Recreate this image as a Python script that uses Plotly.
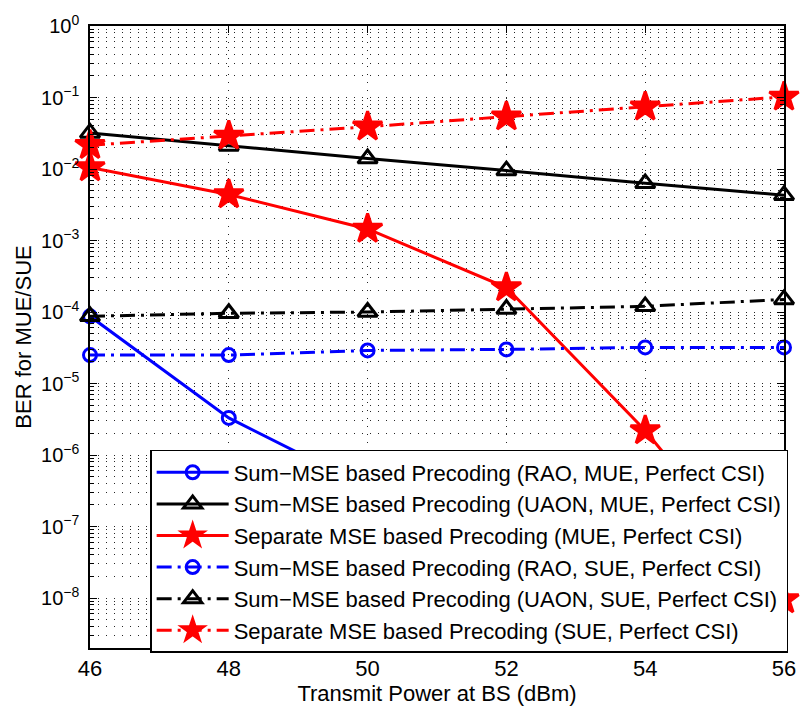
import plotly.graph_objects as go

# ---- data ----
power_dbm = [46, 48, 50, 52, 54, 56]
rao_mue = [8.7e-5, 3.3e-6, 3.5e-7, 1.5e-8, None, None]
uaon_mue = [3.2e-2, 2.1e-2, 1.4e-2, 9.5e-3, 6.3e-3, 4.3e-3]
sep_mue = [1.05e-2, 4.4e-3, 1.45e-3, 2.2e-4, 2.2e-6, 9.5e-9]
rao_sue = [2.5e-5, 2.5e-5, 2.9e-5, 3.0e-5, 3.2e-5, 3.2e-5]
uaon_sue = [8.7e-5, 9.6e-5, 1.0e-4, 1.1e-4, 1.2e-4, 1.5e-4]
sep_sue = [2.15e-2, 2.9e-2, 3.9e-2, 5.4e-2, 7.4e-2, 1.02e-1]

names = [
    "Sum\u2212MSE based Precoding (RAO, MUE, Perfect CSI)",
    "Sum\u2212MSE based Precoding (UAON, MUE, Perfect CSI)",
    "Separate MSE based Precoding (MUE, Perfect CSI)",
    "Sum\u2212MSE based Precoding (RAO, SUE, Perfect CSI)",
    "Sum\u2212MSE based Precoding (UAON, SUE, Perfect CSI)",
    "Separate MSE based Precoding (SUE, Perfect CSI)",
]
decade_exps = [-8, -7, -6, -5, -4, -3, -2, -1, 0]
x_ticks = [46, 48, 50, 52, 54, 56]
y_title = "BER for MUE/SUE"
x_title = "Transmit Power at BS (dBm)"

FONT = "Liberation Sans, Arial, Helvetica, sans-serif"
FS = 22
TFS = 20
DASHDOT = "15px,6px,3px,6px"

series = [
    (rao_mue, "blue", "solid", "circle-open", 13),
    (uaon_mue, "black", "solid", "triangle-up-open", 17),
    (sep_mue, "red", "solid", "star", 22),
    (rao_sue, "blue", DASHDOT, "circle-open", 13),
    (uaon_sue, "black", DASHDOT, "triangle-up-open", 17),
    (sep_sue, "red", DASHDOT, "star", 22),
]

fig = go.Figure()
for (vals, col, dash, sym, size), nm in zip(series, names):
    fig.add_trace(go.Scatter(
        x=power_dbm, y=vals, name=nm, mode="lines+markers",
        line=dict(color=col, width=3, dash=dash),
        marker=dict(symbol=sym, size=size, color=col,
                    line=dict(color=col, width=3)),
        cliponaxis=False, connectgaps=False,
    ))

tickvals = [10.0 ** e for e in decade_exps]
ticktext = ["10<sup>" + ("\u2212" if e < 0 else "") + str(abs(e)) + "</sup>" for e in decade_exps]
minor_vals = [k * 10.0 ** e for e in range(-9, 0) for k in range(2, 10)]

GRID = "rgba(0,0,0,0.85)"
GDASH = "1px,7px"

fig.update_layout(
    width=808, height=713,
    margin=dict(l=90, r=16, t=26, b=56),
    paper_bgcolor="white", plot_bgcolor="white",
    font=dict(family=FONT, size=FS, color="black"),
    showlegend=True,
    legend=dict(
        x=1.006, y=-0.008, xanchor="right", yanchor="bottom",
        bgcolor="white", bordercolor="black", borderwidth=1.5,
        font=dict(family=FONT, size=FS, color="black"),
        itemwidth=72, tracegroupgap=0,
    ),
    xaxis=dict(
        range=[46, 56], tickmode="array", tickvals=x_ticks,
        ticks="inside", ticklen=7, tickwidth=1, tickcolor="black",
        showline=True, linecolor="black", linewidth=1.5, mirror="allticks",
        showgrid=True, gridcolor=GRID, griddash=GDASH, gridwidth=1,
        zeroline=False,
        tickfont=dict(family=FONT, size=FS),
        title=dict(text=x_title, standoff=4,
                   font=dict(family=FONT, size=FS)),
    ),
    yaxis=dict(
        type="log", range=[-8.699, 0],
        tickmode="array", tickvals=tickvals, ticktext=ticktext,
        ticks="inside", ticklen=7, tickwidth=1, tickcolor="black",
        ticklabelstandoff=5,
        showline=True, linecolor="black", linewidth=1.5, mirror="allticks",
        showgrid=True, gridcolor=GRID, griddash=GDASH, gridwidth=1,
        zeroline=False,
        tickfont=dict(family=FONT, size=TFS),
        minor=dict(tickmode="array", tickvals=minor_vals, ticks="inside",
                   ticklen=4, tickcolor="black", showgrid=True,
                   gridcolor=GRID, griddash=GDASH, gridwidth=1),
    ),
    annotations=[dict(
        text=y_title, xref="paper", yref="paper",
        x=-0.097, y=0.5, xanchor="center", yanchor="middle",
        textangle=-90, showarrow=False,
        font=dict(family=FONT, size=FS, color="black"),
    )],
)

fig.write_html("out.html")
